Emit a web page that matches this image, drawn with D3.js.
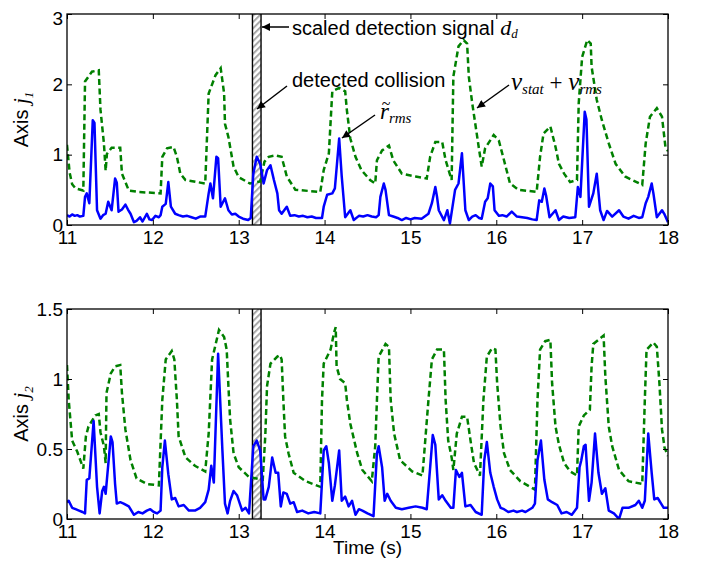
<!DOCTYPE html>
<html>
<head>
<meta charset="utf-8">
<script src="https://cdn.jsdelivr.net/npm/d3@7"></script>
<style>
body { margin: 0; background: #fff; }
text { font-family: "Liberation Sans", Arial, sans-serif; fill: #000; }
.math { font-family: "Liberation Serif", "Times New Roman", serif; font-style: italic; }
.upright { font-family: "Liberation Serif", "Times New Roman", serif; font-style: normal; }
</style>
</head>
<body>
<svg width="705" height="569"></svg>
<script>
// axis ticks
const timeTicks = [11, 12, 13, 14, 15, 16, 17, 18];
const j1Ticks = [0, 1, 2, 3];
const j2Ticks = [0, 0.5, 1, 1.5];

// detected collision interval (s)
const collision = [13.16, 13.26];

// axis j1: r_rms (solid blue) and v_stat + v_rms (dashed green), [time, value]
const j1Rms = [[11.00,0.14],[11.03,0.12],[11.06,0.15],[11.09,0.13],[11.12,0.14],[11.15,0.12],[11.19,0.13],[11.21,0.40],[11.23,0.45],[11.26,0.31],[11.30,1.49],[11.32,1.45],[11.35,0.21],[11.39,0.09],[11.42,0.14],[11.45,0.16],[11.48,0.33],[11.52,0.21],[11.56,0.66],[11.58,0.60],[11.60,0.19],[11.64,0.22],[11.68,0.29],[11.71,0.22],[11.74,0.16],[11.78,0.04],[11.81,0.06],[11.85,0.11],[11.88,0.05],[11.93,0.16],[11.96,0.08],[11.99,0.07],[12.03,0.13],[12.07,0.11],[12.09,0.14],[12.11,0.26],[12.15,0.30],[12.18,0.61],[12.21,0.26],[12.26,0.16],[12.30,0.14],[12.35,0.12],[12.40,0.13],[12.45,0.11],[12.50,0.09],[12.55,0.12],[12.61,0.12],[12.65,0.45],[12.67,0.59],[12.70,0.38],[12.74,0.97],[12.76,0.95],[12.79,0.26],[12.84,0.38],[12.88,0.21],[12.92,0.15],[12.96,0.16],[13.00,0.12],[13.05,0.09],[13.11,0.07],[13.14,0.10],[13.17,0.73],[13.21,0.97],[13.25,0.87],[13.29,0.59],[13.33,0.78],[13.37,0.85],[13.41,0.64],[13.45,0.45],[13.47,0.21],[13.50,0.16],[13.56,0.26],[13.60,0.13],[13.65,0.14],[13.70,0.12],[13.75,0.13],[13.80,0.11],[13.85,0.12],[13.90,0.10],[13.97,0.10],[13.99,0.26],[14.03,0.43],[14.09,0.45],[14.12,0.52],[14.17,1.23],[14.20,0.69],[14.24,0.11],[14.30,0.21],[14.34,0.07],[14.40,0.13],[14.45,0.12],[14.50,0.14],[14.55,0.12],[14.60,0.11],[14.63,0.14],[14.65,0.40],[14.69,0.59],[14.71,0.50],[14.75,0.14],[14.80,0.12],[14.85,0.10],[14.90,0.07],[14.95,0.10],[15.00,0.08],[15.05,0.10],[15.13,0.09],[15.21,0.16],[15.25,0.31],[15.29,0.54],[15.31,0.40],[15.33,0.21],[15.39,0.07],[15.43,0.21],[15.46,0.02],[15.52,0.50],[15.56,0.59],[15.60,1.02],[15.64,0.21],[15.68,0.07],[15.72,0.12],[15.76,0.14],[15.80,0.10],[15.83,0.09],[15.87,0.33],[15.90,0.38],[15.93,0.59],[15.96,0.55],[15.98,0.21],[16.03,0.13],[16.07,0.14],[16.12,0.12],[16.18,0.19],[16.24,0.12],[16.30,0.11],[16.36,0.10],[16.42,0.08],[16.47,0.07],[16.50,0.35],[16.53,0.33],[16.56,0.52],[16.58,0.42],[16.62,0.11],[16.69,0.21],[16.73,0.07],[16.78,0.12],[16.85,0.10],[16.92,0.11],[16.95,0.54],[16.98,0.40],[17.03,1.61],[17.05,1.50],[17.08,0.26],[17.13,0.45],[17.17,0.73],[17.21,0.21],[17.25,0.07],[17.29,0.20],[17.35,0.12],[17.43,0.21],[17.48,0.12],[17.54,0.09],[17.60,0.13],[17.66,0.10],[17.70,0.11],[17.74,0.31],[17.77,0.40],[17.81,0.59],[17.83,0.45],[17.87,0.11],[17.93,0.21],[17.96,0.15],[18.00,0.04]];
const j1Thr = [[11.00,1.14],[11.03,0.75],[11.06,0.58],[11.10,0.52],[11.19,0.49],[11.21,2.04],[11.29,2.18],[11.37,2.20],[11.39,1.64],[11.43,1.16],[11.45,0.77],[11.465,1.01],[11.52,1.10],[11.62,1.10],[11.64,0.73],[11.72,0.49],[11.83,0.47],[12.09,0.45],[12.11,0.97],[12.165,1.09],[12.24,1.11],[12.28,0.97],[12.32,0.73],[12.38,0.64],[12.61,0.59],[12.65,1.87],[12.73,2.13],[12.79,2.23],[12.83,1.87],[12.84,1.44],[12.88,1.25],[12.94,0.83],[13.00,0.68],[13.13,0.59],[13.25,0.62],[13.30,0.90],[13.35,0.97],[13.43,0.99],[13.50,0.97],[13.56,0.69],[13.66,0.50],[13.95,0.47],[13.99,0.78],[14.05,1.02],[14.09,1.90],[14.17,1.95],[14.24,1.90],[14.26,1.63],[14.30,1.23],[14.36,0.97],[14.43,0.78],[14.53,0.64],[14.59,0.59],[14.61,0.92],[14.67,1.06],[14.75,1.13],[14.80,0.92],[14.90,0.73],[15.06,0.69],[15.19,0.66],[15.23,0.97],[15.29,1.18],[15.37,1.18],[15.41,0.92],[15.48,0.64],[15.50,2.11],[15.56,2.54],[15.62,2.63],[15.66,2.58],[15.68,2.11],[15.72,1.73],[15.76,1.40],[15.80,1.07],[15.83,0.83],[15.87,1.09],[15.97,1.28],[16.03,1.20],[16.09,0.92],[16.16,0.59],[16.26,0.50],[16.47,0.47],[16.51,0.97],[16.55,1.30],[16.63,1.40],[16.69,1.11],[16.73,0.87],[16.79,0.73],[16.86,0.61],[16.94,0.64],[16.96,1.73],[17.00,2.39],[17.06,2.63],[17.10,2.58],[17.11,2.25],[17.17,1.78],[17.23,1.49],[17.31,1.16],[17.39,0.87],[17.50,0.69],[17.70,0.57],[17.74,1.16],[17.79,1.54],[17.87,1.66],[17.93,1.54],[17.97,1.11],[18.00,1.05]];

// axis j2
const j2Rms = [[11.00,0.12],[11.02,0.13],[11.06,0.08],[11.10,0.07],[11.14,0.06],[11.18,0.05],[11.21,0.04],[11.23,0.28],[11.26,0.29],[11.31,0.70],[11.35,0.23],[11.38,0.04],[11.41,0.20],[11.43,0.23],[11.45,0.18],[11.51,0.59],[11.53,0.55],[11.56,0.25],[11.58,0.11],[11.62,0.12],[11.66,0.11],[11.72,0.09],[11.78,0.03],[11.83,0.05],[11.88,0.04],[11.93,0.06],[11.97,0.07],[12.01,0.05],[12.05,0.04],[12.09,0.06],[12.11,0.37],[12.14,0.56],[12.18,0.32],[12.22,0.14],[12.26,0.15],[12.30,0.09],[12.36,0.10],[12.42,0.06],[12.49,0.06],[12.55,0.08],[12.61,0.12],[12.65,0.21],[12.68,0.38],[12.71,0.26],[12.76,1.18],[12.81,0.49],[12.84,0.11],[12.87,0.04],[12.90,0.13],[12.94,0.20],[12.98,0.17],[13.04,0.06],[13.08,0.08],[13.12,0.04],[13.17,0.52],[13.21,0.56],[13.25,0.49],[13.29,0.14],[13.31,0.14],[13.35,0.23],[13.39,0.44],[13.43,0.33],[13.46,0.33],[13.49,0.09],[13.52,0.19],[13.56,0.18],[13.60,0.11],[13.64,0.12],[13.68,0.05],[13.74,0.06],[13.81,0.04],[13.88,0.05],[13.95,0.04],[13.99,0.49],[14.02,0.52],[14.05,0.40],[14.09,0.13],[14.12,0.24],[14.17,0.49],[14.20,0.13],[14.24,0.16],[14.28,0.09],[14.32,0.13],[14.36,0.03],[14.40,0.07],[14.44,0.06],[14.50,0.04],[14.57,0.02],[14.61,0.47],[14.63,0.52],[14.67,0.37],[14.70,0.13],[14.73,0.18],[14.77,0.13],[14.83,0.08],[14.90,0.07],[14.98,0.08],[15.06,0.09],[15.14,0.08],[15.19,0.07],[15.23,0.37],[15.26,0.60],[15.29,0.53],[15.33,0.14],[15.37,0.17],[15.41,0.13],[15.47,0.08],[15.50,0.08],[15.53,0.35],[15.57,0.30],[15.60,0.33],[15.64,0.09],[15.70,0.10],[15.76,0.05],[15.83,0.03],[15.86,0.42],[15.89,0.55],[15.93,0.33],[15.97,0.23],[16.01,0.14],[16.05,0.08],[16.09,0.07],[16.14,0.05],[16.20,0.06],[16.24,0.05],[16.30,0.06],[16.34,0.05],[16.42,0.08],[16.45,0.11],[16.48,0.42],[16.52,0.56],[16.56,0.28],[16.60,0.14],[16.65,0.12],[16.71,0.10],[16.76,0.04],[16.82,0.05],[16.88,0.03],[16.94,0.08],[16.97,0.37],[16.99,0.42],[17.02,0.52],[17.04,0.53],[17.08,0.13],[17.11,0.26],[17.15,0.61],[17.19,0.33],[17.23,0.18],[17.27,0.22],[17.31,0.06],[17.37,0.04],[17.43,0.00],[17.47,0.08],[17.54,0.08],[17.62,0.10],[17.66,0.13],[17.70,0.08],[17.73,0.13],[17.77,0.61],[17.81,0.33],[17.84,0.14],[17.88,0.15],[17.92,0.11],[17.95,0.08],[18.00,0.08]];
const j2Thr = [[11.00,1.10],[11.02,0.85],[11.06,0.56],[11.12,0.48],[11.19,0.36],[11.22,0.59],[11.25,0.66],[11.33,0.74],[11.37,0.75],[11.39,0.62],[11.43,0.52],[11.45,0.40],[11.46,0.90],[11.51,1.04],[11.56,1.09],[11.62,1.10],[11.64,0.90],[11.68,0.64],[11.74,0.42],[11.81,0.29],[11.93,0.25],[12.07,0.24],[12.11,0.85],[12.15,1.14],[12.22,1.20],[12.25,1.14],[12.28,0.85],[12.30,0.59],[12.38,0.44],[12.49,0.38],[12.61,0.34],[12.65,0.61],[12.69,1.14],[12.77,1.35],[12.83,1.30],[12.86,1.21],[12.88,0.95],[12.90,0.71],[12.94,0.47],[13.00,0.37],[13.12,0.30],[13.28,0.28],[13.31,0.60],[13.33,0.95],[13.37,1.11],[13.45,1.16],[13.48,1.17],[13.50,1.14],[13.52,0.85],[13.54,0.59],[13.58,0.47],[13.64,0.33],[13.78,0.27],[13.95,0.23],[13.97,0.85],[13.99,1.11],[14.07,1.21],[14.11,1.33],[14.13,1.37],[14.14,1.09],[14.18,1.00],[14.24,0.97],[14.26,0.85],[14.30,0.68],[14.38,0.47],[14.44,0.35],[14.55,0.27],[14.59,0.52],[14.61,0.85],[14.63,1.16],[14.71,1.25],[14.75,1.23],[14.77,0.85],[14.81,0.61],[14.88,0.42],[15.02,0.34],[15.14,0.31],[15.21,0.85],[15.25,1.14],[15.31,1.21],[15.39,1.21],[15.41,0.85],[15.44,0.56],[15.48,0.44],[15.50,0.35],[15.54,0.61],[15.60,0.73],[15.66,0.73],[15.70,0.56],[15.74,0.40],[15.81,0.31],[15.85,0.85],[15.89,1.16],[15.95,1.22],[15.99,1.21],[16.01,0.97],[16.05,0.66],[16.09,0.47],[16.16,0.35],[16.28,0.27],[16.45,0.21],[16.48,0.85],[16.51,1.21],[16.57,1.27],[16.63,1.28],[16.65,0.97],[16.69,0.66],[16.73,0.53],[16.79,0.40],[16.86,0.34],[16.94,0.31],[16.96,0.66],[17.02,0.74],[17.09,0.78],[17.11,1.09],[17.13,1.25],[17.19,1.28],[17.25,1.31],[17.27,1.02],[17.31,0.66],[17.35,0.52],[17.43,0.35],[17.54,0.27],[17.70,0.25],[17.73,0.85],[17.75,1.21],[17.83,1.26],[17.87,1.23],[17.90,0.97],[17.93,0.64],[17.96,0.51],[18.00,0.45]];

const svg = d3.select("svg");
const left = 67, right = 668;

const x = d3.scaleLinear().domain([11, 18]).range([left, right]);

const defs = svg.append("defs");

// hatch for the collision band
const hatch = defs.append("pattern")
    .attr("id", "hatch")
    .attr("patternUnits", "userSpaceOnUse")
    .attr("width", 4.5)
    .attr("height", 4.5)
    .attr("patternTransform", "rotate(45)");
hatch.append("rect").attr("width", 4.5).attr("height", 4.5).attr("fill", "#fff");
hatch.append("line")
    .attr("x1", 1).attr("y1", 0).attr("x2", 1).attr("y2", 4.5)
    .attr("stroke", "#a8a8a8").attr("stroke-width", 2);

defs.append("marker")
    .attr("id", "arrow")
    .attr("viewBox", "0 0 10 10")
    .attr("refX", 10).attr("refY", 5)
    .attr("markerUnits", "userSpaceOnUse")
    .attr("markerWidth", 10).attr("markerHeight", 8)
    .attr("orient", "auto")
    .append("path")
    .attr("d", "M0,0L10,5L0,10z")
    .attr("fill", "#000");

const panels = [
    { top: 14, bottom: 225, ymax: 3, ticks: j1Ticks, rms: j1Rms, thr: j1Thr, sub: "1" },
    { top: 309, bottom: 519, ymax: 1.5, ticks: j2Ticks, rms: j2Rms, thr: j2Thr, sub: "2" }
];

panels.forEach((p, i) => {
    const y = d3.scaleLinear().domain([0, p.ymax]).range([p.bottom, p.top]);
    const g = svg.append("g");

    defs.append("clipPath").attr("id", "clip" + i)
        .append("rect")
        .attr("x", left).attr("y", p.top)
        .attr("width", right - left).attr("height", p.bottom - p.top);

    // collision band
    g.append("rect")
        .attr("x", x(collision[0]))
        .attr("y", p.top)
        .attr("width", x(collision[1]) - x(collision[0]))
        .attr("height", p.bottom - p.top)
        .attr("fill", "url(#hatch)");
    g.selectAll(".edge")
        .data(collision)
        .enter()
        .append("line")
        .attr("x1", d => x(d)).attr("x2", d => x(d))
        .attr("y1", p.top).attr("y2", p.bottom)
        .attr("stroke", "#000")
        .attr("stroke-width", 1.4);

    const line = d3.line()
        .x(d => x(d[0]))
        .y(d => y(d[1]));

    const plot = g.append("g").attr("clip-path", `url(#clip${i})`);

    plot.append("path")
        .attr("d", line(p.thr))
        .attr("fill", "none")
        .attr("stroke", "#008000")
        .attr("stroke-width", 2.5)
        .attr("stroke-dasharray", "6,3.5");

    plot.append("path")
        .attr("d", line(p.rms))
        .attr("fill", "none")
        .attr("stroke", "#0000ff")
        .attr("stroke-width", 2.5)
        .attr("stroke-linejoin", "round");

    // axes with inward ticks on all four sides
    const fmt = d => String(d);
    g.append("g")
        .attr("transform", `translate(0,${p.bottom})`)
        .call(d3.axisBottom(x).tickValues(timeTicks).tickFormat(fmt).tickSizeInner(-5).tickSizeOuter(0).tickPadding(6));
    g.append("g")
        .attr("transform", `translate(0,${p.top})`)
        .call(d3.axisTop(x).tickValues(timeTicks).tickFormat("").tickSizeInner(-5).tickSizeOuter(0));
    const leftAxis = g.append("g")
        .attr("transform", `translate(${left},0)`)
        .call(d3.axisLeft(y).tickValues(p.ticks).tickFormat(fmt).tickSizeInner(-5).tickSizeOuter(0).tickPadding(4));
    g.append("g")
        .attr("transform", `translate(${right},0)`)
        .call(d3.axisRight(y).tickValues(p.ticks).tickFormat("").tickSizeInner(-5).tickSizeOuter(0));

    g.selectAll(".domain").remove();
    g.selectAll(".tick line").attr("stroke", "#000").attr("stroke-width", 1);
    g.selectAll(".tick text")
        .attr("font-family", "Liberation Sans, Arial, sans-serif")
        .attr("font-size", 19)
        .attr("fill", "#000");
    if (i === 0) {
        leftAxis.selectAll(".tick text").filter(d => d === p.ymax).attr("dy", "0.55em");
    }

    g.append("rect")
        .attr("x", left).attr("y", p.top)
        .attr("width", right - left).attr("height", p.bottom - p.top)
        .attr("fill", "none")
        .attr("stroke", "#000")
        .attr("stroke-width", 1.3);

    // y label "Axis j_n"
    const yl = g.append("text")
        .attr("transform", `translate(28,${(p.top + p.bottom) / 2}) rotate(-90)`)
        .attr("text-anchor", "middle")
        .attr("font-size", 20);
    yl.append("tspan").text("Axis ");
    yl.append("tspan").attr("class", "math").attr("font-size", 21).text("j");
    yl.append("tspan").attr("class", "math").attr("font-size", 13).attr("dy", "0.35em").text(p.sub);
});

svg.append("text")
    .attr("x", (left + right) / 2)
    .attr("y", 554)
    .attr("text-anchor", "middle")
    .attr("font-size", 19)
    .text("Time (s)");

// annotations
const arrows = [
    [289, 27, 262, 27],
    [287, 86, 257, 109],
    [375, 115, 342, 138],
    [509, 85, 477, 108]
];
svg.append("g")
    .selectAll("line")
    .data(arrows)
    .enter()
    .append("line")
    .attr("x1", d => d[0]).attr("y1", d => d[1])
    .attr("x2", d => d[2]).attr("y2", d => d[3])
    .attr("stroke", "#000")
    .attr("stroke-width", 1.5)
    .attr("marker-end", "url(#arrow)");

const ann = svg.append("g");

const dd = ann.append("text").attr("x", 292).attr("y", 35).attr("font-size", 20);
dd.append("tspan").text("scaled detection signal");
dd.append("tspan").attr("class", "math").attr("dx", 6).attr("font-size", 22).text("d");
dd.append("tspan").attr("class", "math").attr("font-size", 13).attr("dy", 3).text("d");

ann.append("text").attr("x", 292).attr("y", 87).attr("font-size", 20).text("detected collision");

// r with a tilde over it, then subscript rms
const rr = ann.append("text").attr("class", "math").attr("x", 380).attr("y", 119);
rr.append("tspan").attr("font-size", 23).text("r");
rr.append("tspan").attr("font-size", 15).attr("dy", 4).text("rms");
ann.append("text")
    .attr("class", "upright")
    .attr("x", 386)
    .attr("y", 109)
    .attr("font-size", 16)
    .attr("text-anchor", "middle")
    .text("~");

const vv = ann.append("text").attr("class", "math").attr("x", 511).attr("y", 90);
vv.append("tspan").attr("font-size", 25).text("v");
vv.append("tspan").attr("font-size", 15).attr("dy", 4).text("stat");
vv.append("tspan").attr("class", "upright").attr("font-size", 23).attr("dy", -4).text(" + ");
vv.append("tspan").attr("font-size", 25).text("v");
vv.append("tspan").attr("font-size", 15).attr("dy", 4).text("rms");
</script>
</body>
</html>
